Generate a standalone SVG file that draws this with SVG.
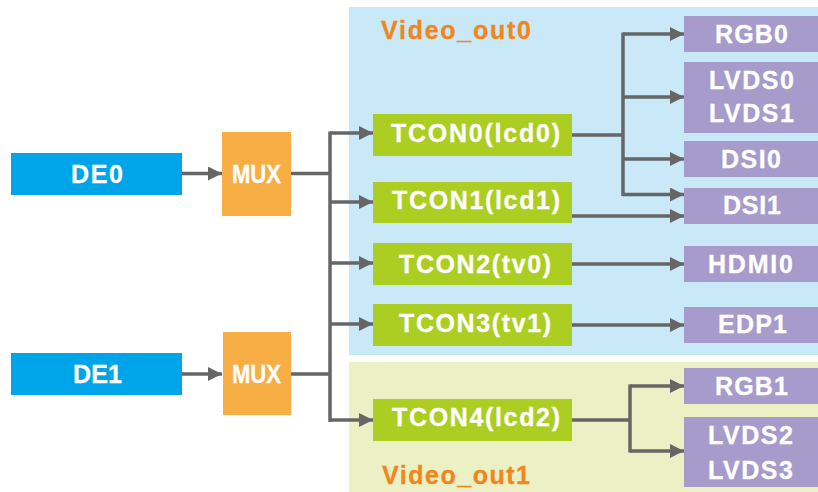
<svg xmlns="http://www.w3.org/2000/svg" width="818" height="492" viewBox="0 0 818 492">
<defs>
<style>
.t{font-family:"Liberation Sans",Arial,sans-serif;font-weight:bold;font-size:25px;fill:#fff;stroke:#fff;stroke-width:0.3;text-anchor:middle}
.lbl{font-family:"Liberation Sans",Arial,sans-serif;font-weight:bold;font-size:25px;fill:#f0861c;stroke:#f0861c;stroke-width:0.3}
.de{fill:#00a4e8}
.mux{fill:#f7ae45}
.tcon{fill:#acce22}
.out{fill:#a69bcb}
.c{fill:none;stroke:#666;stroke-width:3.5}
</style>
<marker id="ah" markerUnits="userSpaceOnUse" markerWidth="14" markerHeight="14" refX="14" refY="7" orient="auto">
<path d="M0,0 L14,7 L0,14 z" fill="#666"/>
</marker>
</defs>
<rect width="818" height="492" fill="#fff"/>
<g id="region0">
<rect x="349" y="7" width="469" height="348" fill="#c9e8f8"/>
<text class="lbl" x="381" y="38.5" textLength="150" lengthAdjust="spacing">Video_out0</text>
</g>
<g id="region1">
<rect x="349" y="362" width="469" height="130" fill="#ebf1c5"/>
<text class="lbl" x="382" y="483.5" textLength="148" lengthAdjust="spacing">Video_out1</text>
</g>
<g id="connectors">
<path class="c" d="M182,173.5 H222" marker-end="url(#ah)"/>
<path class="c" d="M182,374 H222" marker-end="url(#ah)"/>
<path class="c" d="M291,173.5 H330 M291,374 H330 M330,131.5 V422"/>
<path class="c" d="M330,133 H373" marker-end="url(#ah)"/>
<path class="c" d="M330,202 H373" marker-end="url(#ah)"/>
<path class="c" d="M330,263 H373" marker-end="url(#ah)"/>
<path class="c" d="M330,324 H373" marker-end="url(#ah)"/>
<path class="c" d="M330,420 H373" marker-end="url(#ah)"/>
<path class="c" d="M572,135 H623 M623,32.5 V196"/>
<path class="c" d="M623,34 H684" marker-end="url(#ah)"/>
<path class="c" d="M623,97 H684" marker-end="url(#ah)"/>
<path class="c" d="M623,159 H684" marker-end="url(#ah)"/>
<path class="c" d="M623,194.5 H684" marker-end="url(#ah)"/>
<path class="c" d="M572,216 H684" marker-end="url(#ah)"/>
<path class="c" d="M572,264 H684" marker-end="url(#ah)"/>
<path class="c" d="M572,325 H684" marker-end="url(#ah)"/>
<path class="c" d="M572,420 H630 M630,384.5 V452.5"/>
<path class="c" d="M630,386 H684" marker-end="url(#ah)"/>
<path class="c" d="M630,451 H684" marker-end="url(#ah)"/>
</g>
<g id="DE0"><rect class="de" x="11" y="153" width="171" height="42"/><text class="t" x="97" y="182.5" textLength="52" lengthAdjust="spacing">DE0</text></g>
<g id="DE1"><rect class="de" x="11" y="353" width="171" height="42"/><text class="t" x="97.5" y="382.5" textLength="49" lengthAdjust="spacing">DE1</text></g>
<g id="MUX0"><rect class="mux" x="222" y="132" width="69" height="84"/><text class="t" x="256.5" y="182.5" textLength="49" lengthAdjust="spacingAndGlyphs">MUX</text></g>
<g id="MUX1"><rect class="mux" x="223" y="332" width="68" height="83"/><text class="t" x="256.5" y="382.5" textLength="49" lengthAdjust="spacingAndGlyphs">MUX</text></g>
<g id="TCON0"><rect class="tcon" x="373" y="114" width="199" height="42"/><text class="t" x="475.5" y="142" textLength="169" lengthAdjust="spacing">TCON0(lcd0)</text></g>
<g id="TCON1"><rect class="tcon" x="373" y="182" width="199" height="41"/><text class="t" x="476" y="209" textLength="168" lengthAdjust="spacing">TCON1(lcd1)</text></g>
<g id="TCON2"><rect class="tcon" x="373" y="243" width="199" height="42"/><text class="t" x="475" y="273" textLength="152" lengthAdjust="spacing">TCON2(tv0)</text></g>
<g id="TCON3"><rect class="tcon" x="373" y="304" width="199" height="42"/><text class="t" x="475" y="332" textLength="152" lengthAdjust="spacing">TCON3(tv1)</text></g>
<g id="TCON4"><rect class="tcon" x="373" y="399" width="199" height="42"/><text class="t" x="476" y="426" textLength="168" lengthAdjust="spacing">TCON4(lcd2)</text></g>
<g id="RGB0"><rect class="out" x="684" y="16" width="134" height="36"/><text class="t" x="751.5" y="43" textLength="73" lengthAdjust="spacing">RGB0</text></g>
<g id="LVDS01"><rect class="out" x="684" y="62" width="134" height="71"/><text class="t" x="751.5" y="88.5" textLength="85" lengthAdjust="spacing">LVDS0</text><text class="t" x="751.5" y="122" textLength="85" lengthAdjust="spacing">LVDS1</text></g>
<g id="DSI0"><rect class="out" x="684" y="141" width="134" height="36"/><text class="t" x="751" y="168" textLength="60" lengthAdjust="spacing">DSI0</text></g>
<g id="DSI1"><rect class="out" x="684" y="188" width="134" height="36"/><text class="t" x="752" y="213.5" textLength="58" lengthAdjust="spacing">DSI1</text></g>
<g id="HDMI0"><rect class="out" x="684" y="246" width="134" height="36"/><text class="t" x="750.5" y="272.5" textLength="85" lengthAdjust="spacing">HDMI0</text></g>
<g id="EDP1"><rect class="out" x="684" y="307" width="134" height="36"/><text class="t" x="752.5" y="333" textLength="69" lengthAdjust="spacing">EDP1</text></g>
<g id="RGB1"><rect class="out" x="684" y="368" width="134" height="36"/><text class="t" x="751.5" y="395" textLength="73" lengthAdjust="spacing">RGB1</text></g>
<g id="LVDS23"><rect class="out" x="684" y="417" width="134" height="70"/><text class="t" x="750.5" y="443.5" textLength="85" lengthAdjust="spacing">LVDS2</text><text class="t" x="750.5" y="478.5" textLength="85" lengthAdjust="spacing">LVDS3</text></g>
</svg>
